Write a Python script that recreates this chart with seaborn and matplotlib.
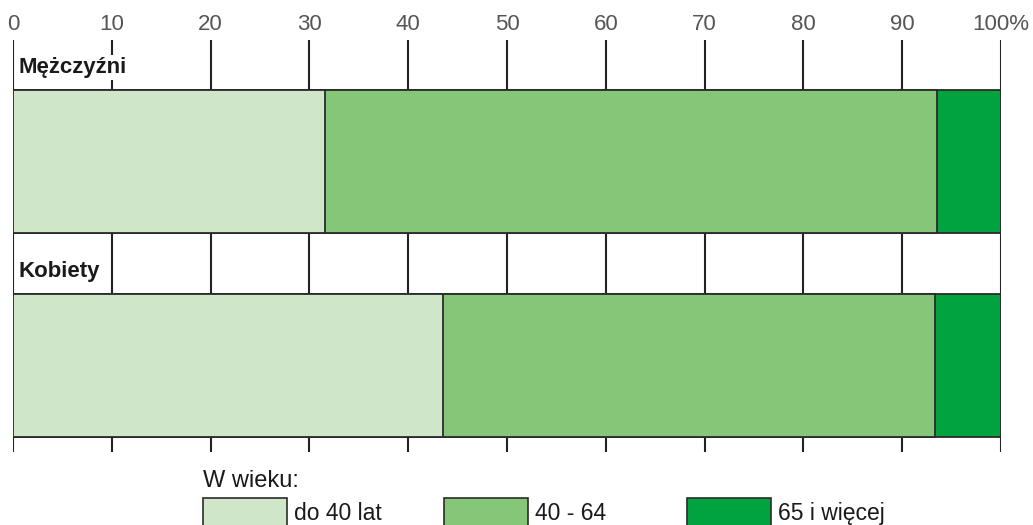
import numpy as np
import pandas as pd
import seaborn as sns
import matplotlib.pyplot as plt
from matplotlib.patches import Patch

# data (percent shares)
groups = ["Mężczyźni", "Kobiety"]
age_labels = ["do 40 lat", "40 - 64", "65 i więcej"]
share_young = [31.6, 43.5]
share_mid = [61.9, 49.8]
share_old = [6.5, 6.7]
x_ticks = [0, 10, 20, 30, 40, 50, 60, 70, 80, 90, 100]
x_ticklabels = ["0", "10", "20", "30", "40", "50", "60", "70", "80", "90", "100%"]

colors = ["#cfe6c8", "#86c679", "#00a33e"]
edge = "#2b2b2b"

sns.set_style("white")
plt.rcParams['font.family'] = ['Liberation Sans', 'DejaVu Sans']

df = pd.DataFrame({"group": groups, "young": share_young,
                   "mid": share_mid, "old": share_old})
df["c1"] = df["young"]
df["c2"] = df["young"] + df["mid"]
df["c3"] = df["c2"] + df["old"]

fig = plt.figure(figsize=(10.33, 5.25), dpi=100)
ax = fig.add_axes([13 / 1033, 1 - 452 / 525, 988 / 1033, 412 / 525])

# stacked bars: draw cumulative totals from the longest down
for col, c in zip(["c3", "c2", "c1"], colors[::-1]):
    sns.barplot(data=df, x=col, y="group", orient="h", color=c, width=0.7,
                edgecolor=edge, linewidth=1.3, ax=ax, saturation=1)

ax.set_xlim(0, 100)
ax.set_ylim(1.424, -0.593)
ax.set_axisbelow(True)
ax.grid(axis="x", color="#222222", linewidth=1.5)
ax.grid(axis="y", visible=False)
ax.set_xticks(x_ticks)
ax.set_xticklabels(x_ticklabels)
ax.xaxis.tick_top()
ax.tick_params(axis="x", length=0, pad=3.5, labelsize=16, labelcolor="#555555")
ax.set_yticks([])
ax.set_xlabel("")
ax.set_ylabel("")
for s in ax.spines.values():
    s.set_visible(False)

for i, g in enumerate(groups):
    ax.text(0.55, i - 0.46, g, fontsize=16, fontweight="bold", color="#1a1a1a",
            va="center", ha="left",
            bbox=dict(facecolor="white", edgecolor="none", pad=1.5))

# legend, one block per age group
leg_x = [203, 444, 687]
for k, (lab, c, x0) in enumerate(zip(age_labels, colors, leg_x)):
    h = [Patch(facecolor=c, edgecolor=edge, linewidth=1.2)]
    leg = fig.legend(h, [lab], loc="upper left",
                     bbox_to_anchor=(x0 / 1033, 1 - 498 / 525),
                     frameon=False, fontsize=16.5, handlelength=3.67,
                     handleheight=1.5, handletextpad=0.28, borderpad=0,
                     borderaxespad=0)
    for t in leg.get_texts():
        t.set_color("#1a1a1a")

fig.text(203 / 1033, 1 - 481 / 525, "W wieku:", fontsize=17, color="#1a1a1a",
         ha="left", va="center")

fig.savefig("out.png", dpi=100)
